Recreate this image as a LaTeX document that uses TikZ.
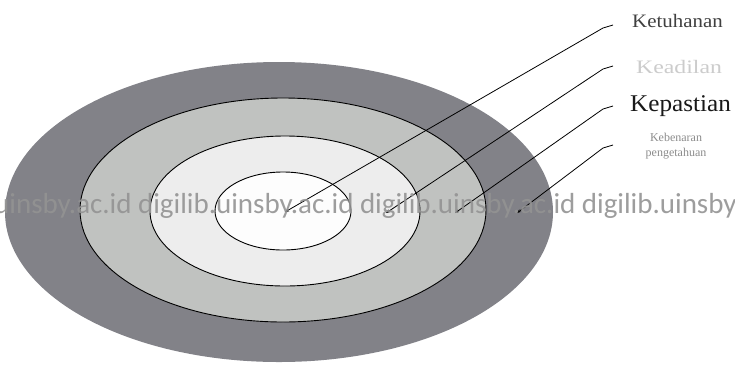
\documentclass[tikz,border=0pt]{standalone}
\usepackage{fontspec}
\setmainfont{Liberation Serif}
\newfontfamily\wmfont{Carlito}
\usetikzlibrary{arrows.meta}
\definecolor{ringA}{HTML}{828288}
\definecolor{ringB}{HTML}{C0C2C0}
\definecolor{ringC}{HTML}{EDEDED}
\definecolor{ringD}{HTML}{FDFDFD}
\definecolor{wmgray}{HTML}{939393}
\tikzset{
  ring/.style={draw=black, line width=0.9pt},
  pointer/.style={draw=black, line width=0.8pt, {Stealth[length=4pt,width=3pt]}-},
  lbl/.style={anchor=west, inner sep=0pt, font=\rmfamily},
}
\begin{document}
\begin{tikzpicture}[x=1pt,y=-1pt]
\useasboundingbox (0,0) rectangle (735,365);
\fill[white] (0,0) rectangle (735,365);
% rings
\fill[ringA] (279,212) ellipse [x radius=274, y radius=150];
\filldraw[ring, fill=ringB] (283,210) ellipse [x radius=203, y radius=112];
\filldraw[ring, fill=ringC] (285,211) ellipse [x radius=135, y radius=75];
\filldraw[ring, fill=ringD] (283,211) ellipse [x radius=68, y radius=39];
% anchor points
\coordinate (s1) at (285,212);
\coordinate (s2) at (386,213);
\coordinate (s3) at (455,213);
\coordinate (s4) at (517,213);
\coordinate (h1) at (603,28);
\coordinate (h2) at (603,69);
\coordinate (h3) at (603,109);
\coordinate (h4) at (603,148);
\coordinate (e1) at (613,25);
\coordinate (e2) at (613,66);
\coordinate (e3) at (613,106);
\coordinate (e4) at (613,145);
% labels
\node[lbl, text=black!75] (t1) at (632,21) {\fontsize{19}{19}\selectfont\scalebox{1.1}[1]{Ketuhanan}};
\node[lbl, text=black!20] (t2) at (636,67) {\fontsize{19}{19}\selectfont\scalebox{1.25}[1]{Keadilan}};
\node[lbl, text=black!90] (t3) at (630,106) {\fontsize{24}{24}\selectfont\scalebox{1.05}[1]{Kepastian}};
\node[anchor=center, inner sep=0pt, align=center, text=black!45, font=\fontsize{12}{15}\selectfont] (t4) at (676,146) {Kebenaran\\pengetahuan};
% pointers
\draw[pointer] (s1) -- (h1) -- (e1);
\draw[pointer] (s2) -- (h2) -- (e2);
\draw[pointer] (s3) -- (h3) -- (e3);
\draw[pointer] (s4) -- (h4) -- (e4);
% watermark
\begin{scope}
\clip (0,0) rectangle (735,365);
\node[anchor=base west, inner sep=0pt, text=wmgray, opacity=0.9, font=\wmfont\fontsize{29}{29}\selectfont] (wm) at (-84,213) {digilib.uinsby.ac.id digilib.uinsby.ac.id digilib.uinsby.ac.id digilib.uinsby.ac.id};
\end{scope}
\end{tikzpicture}
\end{document}
